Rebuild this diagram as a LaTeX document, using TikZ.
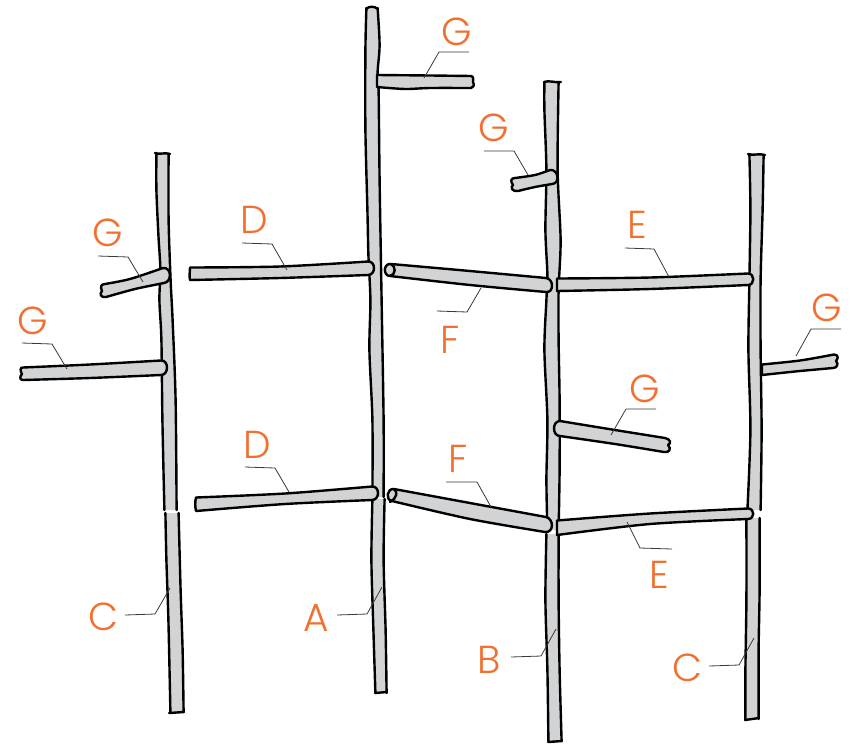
\documentclass[tikz,border=0pt]{standalone}
\usepackage{fontspec}
\setmainfont{Poppins Light}
\definecolor{barfill}{HTML}{D1D3D4}
\definecolor{labelc}{HTML}{F26F2F}
\definecolor{leaderc}{HTML}{3A3A3A}
\tikzset{
  barline/.style={draw=black,line width=2.4pt,line cap=round,line join=round},
  barbody/.style={fill=barfill,draw=none},
  branchbar/.style={fill=barfill,barline},
  leaderline/.style={draw=leaderc,line width=0.8pt},
  partlabel/.style={text=labelc,inner sep=0pt,font=\fontsize{39}{39}\selectfont}
}
% column segment with open ends: left edge going down, right edge going up
\newcommand{\colseg}[2]{%
  \fill[barbody] plot[smooth] coordinates {#1} -- plot[smooth] coordinates {#2} -- cycle;
  \draw[barline,xshift=-0.6pt] plot[smooth] coordinates {#1};
  \draw[barline,xshift=0.6pt] plot[smooth] coordinates {#2};
}
% branch: top edge, right end, bottom edge (back), left end
\newcommand{\branch}[4]{%
  \draw[branchbar] plot[smooth] coordinates {#1} #2 -- plot[smooth] coordinates {#3} #4 -- cycle;
}
\begin{document}
\begin{tikzpicture}[x=1pt,y=-1pt]
\useasboundingbox (0,0) rectangle (850,745);
\fill[white] (0,0) rectangle (850,745);

% ---- columns ----
% left C
\colseg{(157,154)(157,190)(159,235)(161,270)(160,300)(162,340)(163,420)(165,510)}
       {(176,510)(175,400)(172,320)(170,280)(168,220)(168,154)}
\draw[barline] (155,153) .. controls (160,155) and (165,152) .. (170,154);
\colseg{(166,513)(167,560)(169,620)(171,712)}
       {(183,712)(182,650)(180,590)(178,513)}
\draw[barline] (169,713) -- (184,712);
% centre A
\colseg{(367,8)(366,50)(366,130)(368,210)(369,255)(371,300)(370,350)(373,420)(373,497)}
       {(383,497)(383,420)(381,300)(379,180)(378,90)(377,72)(379,45)(377,8)}
\draw[barline] (366,9) .. controls (369,6) and (374,6) .. (378,9);
\colseg{(373,499)(372,560)(374,630)(376,693)}
       {(386,693)(385,630)(383,560)(384,499)}
\draw[barline] (375,693) -- (387,692);
% B
\colseg{(545,82)(545,110)(547,170)(546,230)(548,275)(547,300)(545,350)(548,420)(547,480)(548,530)}
       {(558,530)(559,470)(559,400)(558,340)(558,290)(560,240)(557,170)(558,82)}
\draw[barline] (544,82) .. controls (549,80) and (555,83) .. (561,82);
\colseg{(547,534)(546,600)(548,670)(549,741)}
       {(561,741)(559,670)(558,600)(558,534)}
\draw[barline] (548,742) -- (562,741);
% right C
\colseg{(750,155)(751,210)(750,280)(749,350)(751,430)(748,510)}
       {(760,510)(761,430)(760,350)(760,280)(762,210)(763,155)}
\draw[barline] (748,154) .. controls (753,156) and (759,153) .. (765,155);
\colseg{(747,518)(747,600)(746,670)(746,720)}
       {(758,719)(758,650)(759,590)(759,518)}
\draw[barline] (745,720) -- (759,718);

% ---- branches ----
% G top
\branch{(377,75)(430,75.5)(471,76)}
       {.. controls (475,77) and (472,80) .. (473,82) .. controls (475,85) and (473,88) .. (471,88)}
       {(471,88)(430,88)(405,89)(377,87)}{}
% G upper on B
\branch{(515,178)(535,175)(550,170)}
       {.. controls (559,169) and (560,184) .. (552,184)}
       {(552,184)(535,187)(518,191)}
       {.. controls (512,192) and (510,187) .. (513,185) .. controls (510,181) and (511,178) .. (515,178)}
% G upper-left
\branch{(105,284)(130,279)(163,268)}
       {.. controls (172,267) and (172,282) .. (164,283)}
       {(164,283)(135,289)(106,297)}
       {.. controls (101,298) and (99,294) .. (102,291) .. controls (100,287) and (101,284) .. (105,284)}
% G lower-left
\branch{(23,367.5)(90,364.5)(161,360.5)}
       {.. controls (169,360) and (169,375) .. (161,375)}
       {(161,375)(90,378)(23,380)}
       {.. controls (19,380) and (20,376) .. (22,374) .. controls (20,371) and (20,367) .. (23,367.5)}
% D upper
\branch{(190,267.5)(280,266.5)(368,261.5)}
       {.. controls (376,261) and (376,275) .. (368,275)}
       {(368,275)(280,278)(190,280)}
       {.. controls (189,276) and (190,272) .. (190,267.5)}
% D lower
\branch{(196,497.5)(285,493.5)(372,486.5)}
       {.. controls (380,486) and (380,500) .. (372,500)}
       {(372,500)(285,504)(196,511)}
       {.. controls (195,506) and (195,502) .. (196,497.5)}
% F upper
\branch{(391,264)(470,271)(546,278)}
       {.. controls (554,279) and (554,293) .. (546,292)}
       {(546,292)(470,285)(390,276)}
       {.. controls (383,276) and (383,263) .. (391,264)}
\draw[barline] (391,264) .. controls (396,266) and (396,275) .. (390,276);
% F lower
\branch{(394,489)(470,503)(546,517)}
       {.. controls (554,519) and (554,533) .. (545,532)}
       {(545,532)(470,519)(392,501)}
       {.. controls (385,500) and (387,488) .. (394,489)}
\draw[barline] (394,489) .. controls (398,492) and (397,498) .. (390,502);
% E upper
\branch{(557,278.5)(650,277.5)(748,273.5)}
       {.. controls (755,273.5) and (755,285) .. (748,285)}
       {(748,285)(650,289)(557,291)}{}
% E lower
\branch{(557,520.5)(650,513.5)(748,508.5)}
       {.. controls (755,508.5) and (755,519) .. (748,519)}
       {(748,519)(650,524)(557,535)}{}
% G lower on B
\branch{(560,421)(615,430)(665,438)}
       {.. controls (670,439) and (672,443) .. (668,445) .. controls (672,449) and (669,453) .. (664,452)}
       {(664,452)(615,444)(560,436)}
       {.. controls (552,436) and (552,421) .. (560,421)}
% G right
\branch{(762,364.5)(800,360.5)(834,354.5)}
       {.. controls (839,354.5) and (838,359) .. (836,361) .. controls (839,364) and (837,368) .. (833,368)}
       {(833,368)(800,371)(762,375)}{}

% ---- leader lines ----
\draw[leaderline] (469,52) -- (439,52) -- (424,78);
\draw[leaderline] (484,151) -- (514,151) -- (528,175);
\draw[leaderline] (98,256) -- (128,257) -- (143,282);
\draw[leaderline] (22,343) -- (52,344) -- (67,369);
\draw[leaderline] (242,243) -- (272,244) -- (287,270);
\draw[leaderline] (245,467) -- (275,468) -- (289,492);
\draw[leaderline] (437,311) -- (467,312) -- (481,288);
\draw[leaderline] (446,482) -- (477,482) -- (491,507);
\draw[leaderline] (625,248) -- (654,249) -- (669,277);
\draw[leaderline] (672,549) -- (640,548) -- (627,522);
\draw[leaderline] (656,409) -- (626,409) -- (611,435);
\draw[leaderline] (841,329) -- (811,329) -- (796,356);
\draw[leaderline] (125,615) -- (155,614) -- (170,588);
\draw[leaderline] (337,615) -- (367,614) -- (382,587);
\draw[leaderline] (511,657) -- (541,656) -- (556,629);
\draw[leaderline] (709,666) -- (739,665) -- (754,638);

% ---- labels ----
\node[partlabel] (g1) at (457,32) {G};
\node[partlabel] (g2) at (494,128) {G};
\node[partlabel] (g3) at (108,233) {G};
\node[partlabel] (g4) at (33,321) {G};
\node[partlabel] (d1) at (254,220) {D};
\node[partlabel] (d2) at (257,445) {D};
\node[partlabel] (f1) at (450,340) {F};
\node[partlabel] (f2) at (458,459) {F};
\node[partlabel] (e1) at (637,225) {E};
\node[partlabel] (e2) at (659,575) {E};
\node[partlabel] (g5) at (645,389) {G};
\node[partlabel] (g6) at (827,308) {G};
\node[partlabel] (c1) at (104,617) {C};
\node[partlabel] (a1) at (316,618) {A};
\node[partlabel] (b1) at (489,660) {B};
\node[partlabel] (c2) at (688,668) {C};
\end{tikzpicture}
\end{document}
